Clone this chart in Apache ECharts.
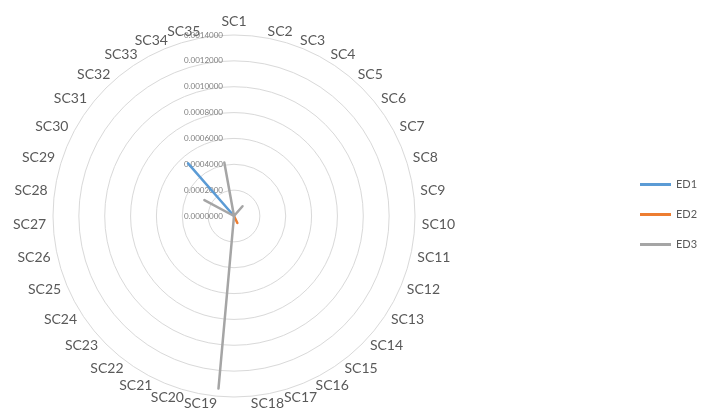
<!DOCTYPE html>
<html>
<head>
<meta charset="utf-8">
<script src="https://cdn.jsdelivr.net/npm/echarts@6/dist/echarts.min.js"></script>
<style>
  html, body { margin: 0; padding: 0; background: #ffffff; }
  #chart { width: 705px; height: 414px; }
</style>
</head>
<body>
<div id="chart"></div>
<script>
// Indicator names around the radar (clockwise from the top)
const categories = [
  'SC1','SC2','SC3','SC4','SC5','SC6','SC7','SC8','SC9','SC10',
  'SC11','SC12','SC13','SC14','SC15','SC16','SC17','SC18','SC19','SC20',
  'SC21','SC22','SC23','SC24','SC25','SC26','SC27','SC28','SC29','SC30',
  'SC31','SC32','SC33','SC34','SC35'
];

// Series values, one per indicator
const ed1 = [
  0, 0, 0, 0, 0, 0, 0, 0, 0, 0,
  0, 0, 0, 0, 0, 0, 0, 0, 0, 0,
  0, 0, 0, 0, 0, 0, 0, 0, 0, 0,
  0, 0.00054, 0, 0, 0
];
const ed2 = [
  0, 0, 0, 0, 0, 0, 0, 0, 0, 0,
  0, 0, 0, 0, 0, 0.00006, 0, 0, 0, 0,
  0, 0, 0, 0, 0, 0, 0, 0, 0, 0,
  0, 0, 0, 0, 0
];
const ed3 = [
  0, 0, 0, 0, 0.0001, 0, 0, 0, 0, 0,
  0, 0, 0, 0, 0, 0, 0, 0, 0.00134, 0,
  0, 0, 0, 0, 0, 0, 0, 0, 0, 0.00026,
  0, 0, 0, 0, 0.00042
];

// Radial scale
const scaleMin = 0;
const scaleMax = 0.0014;
const scaleSteps = 7;

const seriesNames = ['ED1', 'ED2', 'ED3'];
const seriesValues = [ed1, ed2, ed3];
const colors = ['#5B9BD5', '#ED7D31', '#A5A5A5'];

// The radar lays indicators out counter-clockwise; keep the first one on top
// and reverse the rest so the names run clockwise.
const order = [0].concat(categories.map((_, i) => i).slice(1).reverse());

const indicator = order.map((idx, pos) => {
  const item = { name: categories[idx], min: scaleMin, max: scaleMax };
  if (pos === 0) item.axisLabel = { show: true };
  return item;
});

const chart = echarts.init(document.getElementById('chart'));
chart.setOption({
  backgroundColor: '#ffffff',
  animation: false,
  color: colors,
  legend: {
    orient: 'vertical',
    left: 635,
    top: 174,
    itemWidth: 31,
    itemHeight: 3,
    itemGap: 19,
    icon: 'rect',
    textStyle: { color: '#595959', fontSize: 11, fontFamily: 'Lato' },
    data: seriesNames
  },
  radar: {
    center: [234, 216],
    radius: 181,
    shape: 'circle',
    startAngle: 90,
    splitNumber: scaleSteps,
    nameGap: 7,
    indicator: indicator,
    axisName: { color: '#595959', fontSize: 14, fontFamily: 'Lato' },
    axisLine: { show: false },
    axisTick: { show: false },
    axisLabel: {
      show: false,
      color: '#7f7f7f',
      fontSize: 8,
      fontFamily: 'Lato',
      margin: 11,
      formatter: v => Number(v).toFixed(7)
    },
    splitLine: { lineStyle: { color: '#D9D9D9', width: 1 } },
    splitArea: { show: false }
  },
  series: [{
    type: 'radar',
    symbol: 'none',
    data: seriesNames.map((n, i) => ({
      name: n,
      value: order.map(idx => seriesValues[i][idx]),
      lineStyle: { color: colors[i], width: 2.5 },
      itemStyle: { color: colors[i] }
    }))
  }]
});
</script>
</body>
</html>
